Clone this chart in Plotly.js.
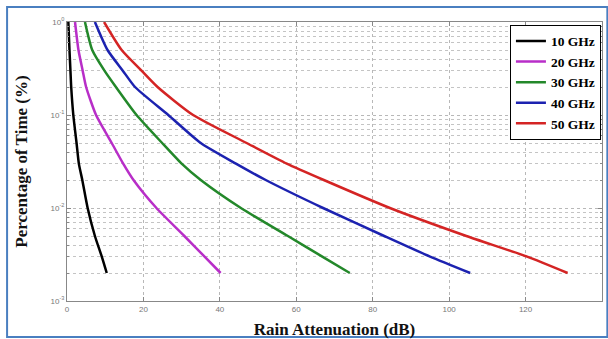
<!DOCTYPE html>
<html>
<head>
<meta charset="utf-8">
<script src="https://cdn.plot.ly/plotly-3.0.1.min.js"></script>
<style>html,body{margin:0;padding:0;background:#fff;}#chart{width:608px;height:339px;}</style>
</head>
<body>
<div id="chart"></div>
<script>
// Percentage of time (%)
const percent = [1, 0.5, 0.3, 0.2, 0.1, 0.05, 0.03, 0.02, 0.01, 0.005, 0.003, 0.002];
// Rain attenuation (dB) for each frequency
const att10 = [0.35, 0.65, 0.9, 1.1, 1.65, 2.5, 3.1, 4.0, 5.4, 7.3, 9.1, 10.4];
const att20 = [2.1, 3.0, 4.1, 5.0, 7.6, 11.7, 14.7, 17.4, 23.4, 30.7, 36.0, 40.2];
const att30 = [4.7, 6.6, 9.8, 12.8, 18.2, 24.9, 30.0, 35.0, 45.5, 57.8, 66.8, 74.0];
const att40 = [7.3, 10.6, 14.6, 17.8, 26.5, 35.0, 44.2, 52.0, 67.0, 83.0, 95.0, 105.5];
const att50 = [9.7, 14.3, 19.5, 23.7, 33.0, 47.0, 57.5, 67.2, 84.5, 104.5, 120.4, 131.0];
const seriesNames = ['10 GHz', '20 GHz', '30 GHz', '40 GHz', '50 GHz'];
const xTicks = [0, 20, 40, 60, 80, 100, 120, 140];
const yTickVals = [1, 0.1, 0.01, 0.001];
const yTickText = ['10<sup>0</sup>', '10<sup>-1</sup>', '10<sup>-2</sup>', '10<sup>-3</sup>'];

const colors = ['#000000', '#b82ec8', '#23882a', '#1c22b0', '#d42424'];
const allAtt = [att10, att20, att30, att40, att50];
const traces = allAtt.map((a, i) => ({
  x: a, y: percent, type: 'scatter', mode: 'lines', name: seriesNames[i],
  line: {color: colors[i], width: 2.5, shape: 'spline', smoothing: 0.6}
}));

const layout = {
  width: 608, height: 339,
  margin: {l: 67, r: 6, t: 22, b: 38},
  paper_bgcolor: '#fff', plot_bgcolor: '#fff',
  showlegend: true,
  legend: {
    x: 0.998, y: 0.99, xanchor: 'right', yanchor: 'top',
    bgcolor: '#fff', bordercolor: '#000', borderwidth: 1,
    font: {family: 'Liberation Serif', size: 13.5, color: '#000', weight: 'bold'},
    tracegroupgap: 0, itemwidth: 30
  },
  xaxis: {
    range: [0, 140], tickvals: xTicks, ticktext: xTicks.map(String),
    showgrid: true, gridcolor: '#b8b8b8', griddash: 'dot', gridwidth: 1,
    zeroline: false, showline: true, linecolor: '#888', linewidth: 1, mirror: 'ticks',
    ticks: 'inside', ticklen: 4, tickcolor: '#888',
    tickfont: {family: 'Liberation Sans Narrow, Liberation Sans', size: 8, color: '#777'},
    title: {text: 'Rain Attenuation (dB)', standoff: 10,
      font: {family: 'Liberation Serif', size: 17, color: '#111', weight: 'bold'}}
  },
  yaxis: {
    type: 'log', range: [-3, 0], tickvals: yTickVals, ticktext: yTickText,
    showgrid: true, gridcolor: '#b8b8b8', griddash: 'dot', gridwidth: 1,
    minor: {dtick: 'D1', showgrid: true, gridcolor: '#c4c4c4', griddash: 'dot', gridwidth: 1, ticks: 'inside', ticklen: 2, tickcolor: '#888'},
    zeroline: false, showline: true, linecolor: '#888', linewidth: 1, mirror: 'ticks',
    ticks: 'inside', ticklen: 4, tickcolor: '#888',
    tickfont: {family: 'Liberation Sans Narrow, Liberation Sans', size: 8, color: '#777'},
    title: {text: 'Percentage of Time (%)', standoff: 18,
      font: {family: 'Liberation Serif', size: 17, color: '#111', weight: 'bold'}}
  },
  shapes: [{
    type: 'rect', xref: 'paper', yref: 'paper',
    x0: -0.112, x1: 1.01, y0: -0.129, y1: 1.054,
    line: {color: '#4a7fc0', width: 2}, fillcolor: 'rgba(0,0,0,0)', layer: 'below'
  }]
};

Plotly.newPlot('chart', traces, layout, {displayModeBar: false, staticPlot: true});
</script>
</body>
</html>
